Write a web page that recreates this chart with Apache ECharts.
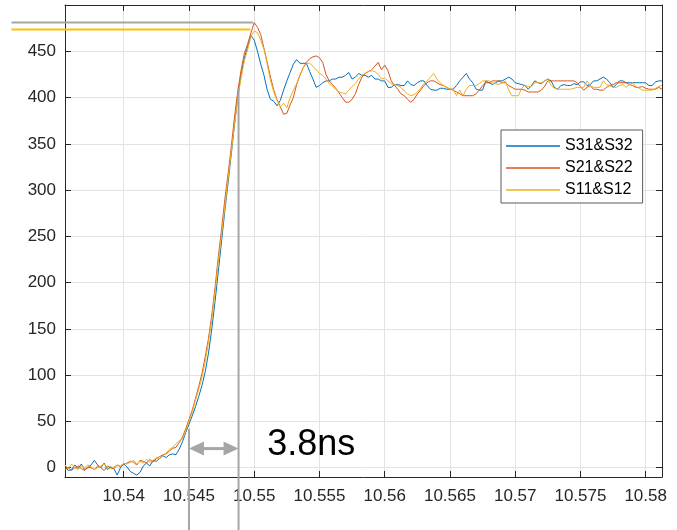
<!DOCTYPE html>
<html>
<head>
<meta charset="utf-8">
<script src="https://cdn.jsdelivr.net/npm/echarts@6/dist/echarts.min.js"></script>
<style>
html,body{margin:0;padding:0;background:#fff;}
#chart{width:677px;height:530px;}
</style>
</head>
<body>
<div id="chart"></div>
<script>
// ---- sampling of the recorded traces ----
const t0 = 10.5355;      // first sample time
const dt = 0.00025;      // sample spacing

// ---- series values (one per sample) ----
const s31 = [
  2, -3, -2, 3, -1, 4, -2, 0, 3, 8,
  3, 0, 5, -2, 1, -1, -8, 0, 4, 1,
  -4, -6, -8, -5, 2, 5, 2, 8, 7, 10,
  13, 11, 14, 15, 14, 20, 28, 38, 47, 56,
  66, 77, 89, 104, 124, 150, 180, 212, 245, 278,
  308, 340, 372, 402, 425, 443, 455, 467, 462, 450,
  436, 424, 408, 398, 396, 391, 397, 408, 418, 427,
  436, 441, 437, 437, 437, 428, 420, 411, 413, 416,
  418, 418, 420, 420, 422, 422, 424, 427, 420, 422,
  426, 424, 424, 422, 424, 420, 420, 418, 418, 411,
  411, 414, 414, 413, 413, 418, 414, 413, 416, 418,
  418, 413, 409, 408, 408, 410, 410, 409, 409, 409,
  413, 418, 422, 426, 420, 416, 409, 408, 408, 418,
  416, 414, 416, 418, 418, 420, 422, 420, 416, 415,
  414, 413, 409, 413, 418, 416, 415, 418, 420, 418,
  411, 409, 413, 414, 413, 413, 415, 414, 417, 417,
  413, 414, 418, 418, 420, 422, 420, 416, 411, 414,
  418, 418, 416, 416, 416, 416, 416, 416, 416, 413,
  413, 417, 418, 418
];
const s21 = [
  -2, 0, -3, 0, 2, -1, -3, 1, 0, -2,
  2, 0, -3, 2, 0, -1, 3, 1, 4, 5,
  7, 6, 3, 8, 7, 5, 9, 6, 10, 12,
  14, 15, 18, 21, 22, 27, 33, 42, 52, 62,
  75, 88, 102, 120, 140, 165, 195, 228, 258, 290,
  318, 348, 380, 408, 430, 448, 458, 470, 481, 476,
  468, 453, 438, 422, 408, 398, 390, 382, 383, 392,
  400, 414, 424, 432, 438, 442, 444, 445, 443, 438,
  425, 418, 414, 410, 405, 400, 395, 395, 398, 404,
  414, 422, 426, 428, 430, 434, 438, 430, 435, 429,
  418, 413, 409, 404, 402, 398, 395, 398, 404, 408,
  413, 416, 418, 418, 416, 414, 413, 411, 409, 408,
  406, 404, 402, 402, 402, 402, 404, 408, 413, 416,
  416, 418, 418, 418, 416, 416, 413, 411, 409, 409,
  409, 408, 406, 406, 406, 406, 408, 412, 418, 418,
  418, 418, 418, 418, 418, 418, 418, 416, 412, 408,
  411, 413, 409, 409, 408, 408, 411, 413, 414, 416,
  416, 416, 416, 414, 413, 411, 411, 412, 410, 409,
  409, 409, 411, 409
];
const s11 = [
  3, -1, 4, 0, -2, 2, 0, 3, 1, -2,
  0, 2, 4, 0, -1, 1, 3, 2, 5, 4,
  6, 8, 4, 7, 5, 9, 6, 8, 11, 10,
  13, 16, 20, 22, 26, 29, 31, 40, 50, 60,
  73, 85, 98, 115, 136, 160, 190, 222, 252, 282,
  312, 342, 372, 400, 422, 440, 452, 466, 472, 470,
  462, 452, 436, 418, 406, 397, 390, 394, 389, 400,
  408, 415, 424, 432, 437, 437, 434, 430, 426, 424,
  420, 415, 412, 409, 406, 405, 404, 408, 412, 415,
  420, 424, 426, 428, 429, 428, 425, 420, 421, 418,
  415, 414, 413, 411, 407, 404, 402, 403, 406, 410,
  415, 418, 422, 426, 420, 416, 413, 411, 409, 409,
  402, 408, 402, 409, 413, 413, 413, 415, 418, 418,
  418, 416, 415, 414, 416, 418, 408, 402, 402, 402,
  410, 413, 412, 412, 416, 416, 416, 418, 420, 413,
  410, 409, 409, 409, 409, 409, 410, 411, 411, 411,
  418, 413, 411, 411, 411, 418, 414, 413, 411, 411,
  413, 414, 411, 414, 416, 412, 410, 408, 408, 408,
  408, 410, 412, 413
];
const seriesNames = ['S31&S32', 'S21&S22', 'S11&S12'];

// ---- axes ----
const xMin = 10.5355, xMax = 10.58125;
const yMin = -10, yMax = 500;
const xTicks = [10.54, 10.545, 10.55, 10.555, 10.56, 10.565, 10.57, 10.575, 10.58];
const yTicks = [0, 50, 100, 150, 200, 250, 300, 350, 400, 450];

// ---- annotation values (data units) ----
const peakLevel = 481;        // grey horizontal line
const yellowLevel = 473.5;    // yellow horizontal line
const hLineFromX = 10.5314;
const grayLineToX = 10.5499;
const yellowLineToX = 10.5497;
const riseStartX = 10.545, riseStartTop = 42;
const riseEndX = 10.5488, riseEndTop = 410;
const arrowLevel = 20.7;
const labelX = 10.5510, labelLevel = 24.3;
const labelText = '3.8ns';

const colors = ['#0072BD', '#D95319', '#EDB120'];
const FONT = '"Liberation Sans", Arial, Helvetica, sans-serif';

const times = s31.map((_, i) => +(t0 + i * dt).toFixed(6));
const toPairs = arr => arr.map((v, i) => [times[i], v]);

const chart = echarts.init(document.getElementById('chart'), null, {renderer: 'canvas'});

const axisCommon = {
  axisLine: {show: true, onZero: false, lineStyle: {color: '#262626', width: 1}},
};

const option = {
  animation: false,
  backgroundColor: '#ffffff',
  color: colors,
  grid: {left: 65, right: 15, top: 5, bottom: 53, containLabel: false},
  legend: {
    orient: 'vertical', left: 501, top: 130,
    padding: [8, 10, 5, 5], itemGap: 6, itemWidth: 54, itemHeight: 16, itemTextGap: 5,
    icon: 'path://M0,0H54V1.3H0Z', symbolKeepAspect: true,
    borderColor: '#5b5b5b', borderWidth: 1, backgroundColor: '#ffffff',
    textStyle: {fontSize: 16, fontFamily: FONT, color: '#000', lineHeight: 16},
    data: seriesNames
  },
  xAxis: [{
    type: 'value', min: xMin, max: xMax, position: 'bottom',
    ...axisCommon,
    axisTick: {show: true, inside: true, length: 6, customValues: xTicks, lineStyle: {color: '#262626'}},
    axisLabel: {show: true, customValues: xTicks, margin: 11, color: '#262626', fontSize: 17, fontFamily: FONT,
      formatter: v => String(+(+v).toFixed(3))},
    splitLine: {show: true, lineStyle: {color: '#e3e3e3', width: 1}}
  }, {
    type: 'value', min: xMin, max: xMax, position: 'top',
    ...axisCommon,
    axisTick: {show: true, inside: true, length: 6, customValues: xTicks, lineStyle: {color: '#262626'}},
    axisLabel: {show: false},
    splitLine: {show: false}
  }],
  yAxis: [{
    type: 'value', min: yMin, max: yMax, position: 'left',
    ...axisCommon,
    axisTick: {show: true, inside: true, length: 6, customValues: yTicks, lineStyle: {color: '#262626'}},
    axisLabel: {show: true, customValues: yTicks, margin: 9, color: '#262626', fontSize: 17, fontFamily: FONT},
    splitLine: {show: true, lineStyle: {color: '#e3e3e3', width: 1}}
  }, {
    type: 'value', min: yMin, max: yMax, position: 'right',
    ...axisCommon,
    axisTick: {show: true, inside: true, length: 6, customValues: yTicks, lineStyle: {color: '#262626'}},
    axisLabel: {show: false},
    splitLine: {show: false}
  }],
  series: [s31, s21, s11].map((arr, k) => ({
    name: seriesNames[k], type: 'line', data: toPairs(arr),
    xAxisIndex: 0, yAxisIndex: 0,
    symbol: 'none', showSymbol: false, smooth: false,
    lineStyle: {width: 1, color: colors[k]}, itemStyle: {color: colors[k]}, z: 2 + k
  }))
};
chart.setOption(option);

// ---- annotations placed through the chart's own scales ----
const P = (x, y) => chart.convertToPixel({xAxisIndex: 0, yAxisIndex: 0}, [x, y]);
const H = chart.getHeight();
const gray = '#a6a6a6';
const g = [];
const a = P(hLineFromX, peakLevel), b = P(grayLineToX, peakLevel);
g.push({type: 'line', z: 100, shape: {x1: a[0], y1: a[1], x2: b[0], y2: b[1]}, style: {stroke: gray, lineWidth: 2}});
const c = P(hLineFromX, yellowLevel), d = P(yellowLineToX, yellowLevel);
g.push({type: 'line', z: 100, shape: {x1: c[0], y1: c[1], x2: d[0], y2: d[1]}, style: {stroke: '#FFC000', lineWidth: 2}});
const v1 = P(riseStartX, riseStartTop), v2 = P(riseEndX, riseEndTop);
g.push({type: 'line', z: 100, shape: {x1: v1[0], y1: v1[1], x2: v1[0], y2: H}, style: {stroke: gray, lineWidth: 2}});
g.push({type: 'line', z: 100, shape: {x1: v2[0], y1: v2[1], x2: v2[0], y2: H}, style: {stroke: gray, lineWidth: 2}});
const ar1 = P(riseStartX, arrowLevel), ar2 = P(riseEndX, arrowLevel);
const hl = 15, hh = 7;
g.push({type: 'line', z: 100, shape: {x1: ar1[0] + hl - 1, y1: ar1[1], x2: ar2[0] - hl + 1, y2: ar2[1]}, style: {stroke: gray, lineWidth: 3}});
g.push({type: 'polygon', z: 100, shape: {points: [[ar1[0], ar1[1]], [ar1[0] + hl, ar1[1] - hh], [ar1[0] + hl, ar1[1] + hh]]}, style: {fill: gray}});
g.push({type: 'polygon', z: 100, shape: {points: [[ar2[0], ar2[1]], [ar2[0] - hl, ar2[1] - hh], [ar2[0] - hl, ar2[1] + hh]]}, style: {fill: gray}});
const lp = P(labelX, labelLevel);
g.push({type: 'text', z: 100, x: lp[0], y: lp[1], style: {text: labelText, fontSize: 36, fontFamily: FONT, fill: '#000', align: 'left', verticalAlign: 'middle'}});
chart.setOption({graphic: g});
</script>
</body>
</html>
